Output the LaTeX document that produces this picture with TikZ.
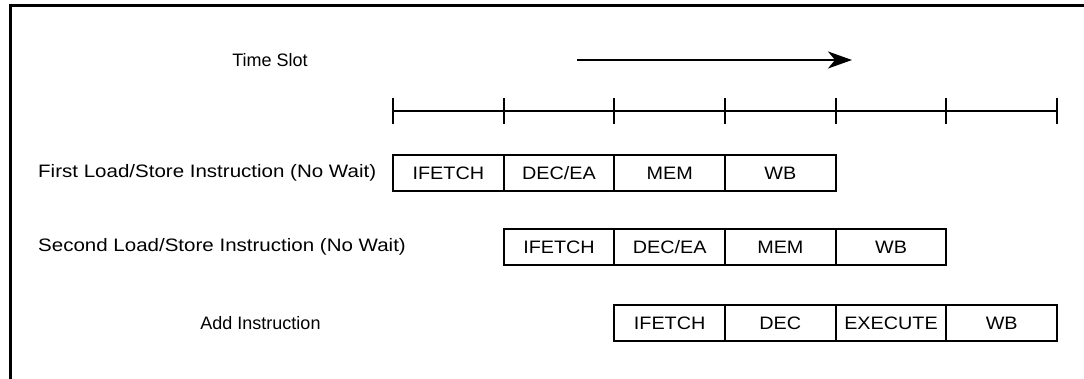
\documentclass[tikz,border=0pt]{standalone}
\usepackage{fontspec}
\setmainfont{Liberation Sans}
\newfontfamily\cellfont{Liberation Sans}[FakeStretch=1.1]
\newfontfamily\widefont{Liberation Sans}[FakeStretch=1.14]
\usetikzlibrary{arrows.meta}
\begin{document}
\begin{tikzpicture}[x=1pt,y=-1pt,
  lbl/.style={font=\fontsize{18}{20}\selectfont, inner sep=0pt},
  widelbl/.style={font=\widefont\fontsize{18}{20}\selectfont, inner sep=0pt, anchor=west},
  cell/.style={draw, line width=1.8pt, minimum width=110.67pt, minimum height=36pt,
               inner sep=0pt, outer sep=0pt, anchor=west,
               font=\cellfont\fontsize{18}{20}\selectfont},
  axis/.style={line width=2pt},
  frame/.style={line width=3pt}]
\useasboundingbox (0,0) rectangle (1084,379);

% open frame around the figure
\coordinate (fbl) at (10,385);
\coordinate (ftl) at (10,5.5);
\coordinate (ftr) at (1090,5.5);
\draw[frame] (fbl) -- (ftl) -- (ftr);

% time direction
\node[lbl] (ts) at (270,60) {Time Slot};
\coordinate (a0) at (577,60);
\coordinate (a1) at (852,60);
\draw[axis, -{Stealth[length=24pt,width=17pt,inset=7pt]}] (a0) -- (a1);

% slot boundaries
\foreach \i in {0,...,6} {
  \coordinate (t\i) at ({393+110.67*\i},111);
  \draw[axis] ([yshift=-13pt]t\i) -- ([yshift=13pt]t\i);
}
\draw[axis] (t0) -- (t6);

% first load/store
\node[widelbl] (l1) at (38,173) {First Load/Store Instruction (No Wait)};
\node[cell] (r1a) at (t0 |- 0,173) {IFETCH};
\node[cell] (r1b) at (t1 |- 0,173) {DEC/EA};
\node[cell] (r1c) at (t2 |- 0,173) {MEM};
\node[cell] (r1d) at (t3 |- 0,173) {WB};

% second load/store
\node[widelbl] (l2) at (38,247) {Second Load/Store Instruction (No Wait)};
\node[cell] (r2a) at (t1 |- 0,247) {IFETCH};
\node[cell] (r2b) at (t2 |- 0,247) {DEC/EA};
\node[cell] (r2c) at (t3 |- 0,247) {MEM};
\node[cell] (r2d) at (t4 |- 0,247) {WB};

% add
\node[lbl] (l3) at (260.5,323) {Add Instruction};
\node[cell] (r3a) at (t2 |- 0,323) {IFETCH};
\node[cell] (r3b) at (t3 |- 0,323) {DEC};
\node[cell] (r3c) at (t4 |- 0,323) {EXECUTE};
\node[cell] (r3d) at (t5 |- 0,323) {WB};
\end{tikzpicture}
\end{document}
